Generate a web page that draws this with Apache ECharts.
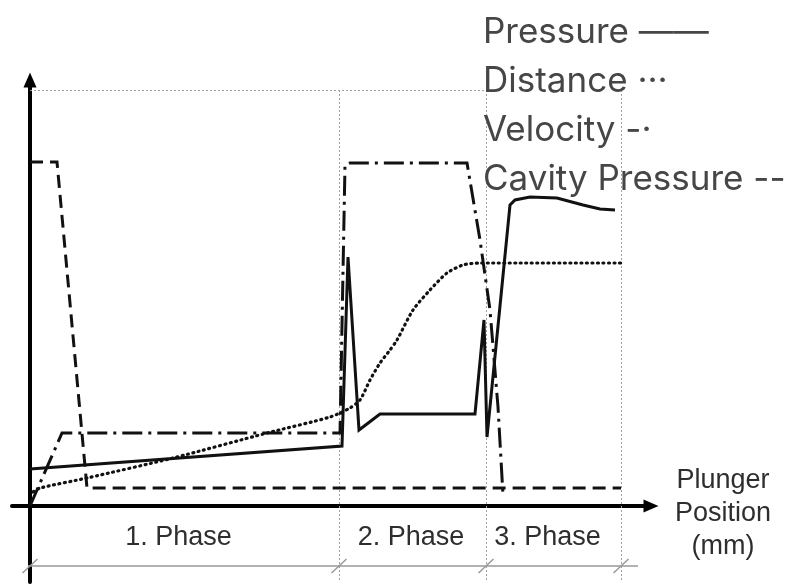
<!DOCTYPE html>
<html><head><meta charset="utf-8">
<script src="https://cdn.jsdelivr.net/npm/echarts@6/dist/echarts.min.js"></script>
<style>html,body{margin:0;padding:0;background:#fff}#c{width:790px;height:586px}</style>
</head><body><div id="c"></div>
<script>
// ---- data (x: plunger position, y: signal level, arbitrary units) ----
const seriesNames = ['Pressure', 'Distance', 'Velocity', 'Cavity Pressure'];
const legendMarks = ['——', '···', '-·', '--'];
const pressure = [[0,18.5],[62.4,30],[63.6,124.5],[65.8,38],[70,46],[89,46],[90.8,93],[91.4,34.5],[96,150.5],[97,153],[100,154.5],[105.4,154],[110.6,150.5],[114,148.5],[117,148]];
const distance = [[0.6,7],[2,9],[11.4,14],[28.6,24],[47.4,36.5],[60,44.5],[64,49],[66,53],[68,63],[70,71.5],[72,78],[73.4,83],[76.6,98],[80,108],[83.4,116.5],[86.6,120.5],[90,121.5],[118.2,121.5]];
const velocity = [[0,0],[6.4,36.5],[62,36.5],[63,170.5],[64,171.5],[87.4,171.5],[90,133],[92,98],[93.6,49.5],[94.6,5.5]];
const cavity = [[0,172],[5.4,172],[11.4,9],[118.2,9]];
const phaseBounds = [0, 61.8, 91.2, 118.2];
const phaseLabels = ['1. Phase', '2. Phase', '3. Phase'];
const phaseCenters = [29.7, 76.2, 103.5];
const topLevel = 208;
const xAxisTitle = 'Plunger\nPosition\n(mm)';

// ---- chart ----
const chart = echarts.init(document.getElementById('c'), null, {renderer: 'canvas'});
const ink = '#111';
const guide = {color: '#a0a0a0', width: 1, type: [2, 2]};

const guideLines = [];
guideLines.push([{coord: [0, topLevel]}, {coord: [phaseBounds[2], topLevel]}]);
phaseBounds.slice(1).forEach(b => guideLines.push([{coord: [b, topLevel]}, {coord: [b, -38]}]));
const bracketLines = [[{coord: [-0.4, -30]}, {coord: [121.6, -30]}]];
phaseBounds.forEach(b => bracketLines.push([{coord: [b - 1.5, -33.5]}, {coord: [b + 1.5, -26.5]}]));

const lineSeries = (name, data, type, width, cap) => ({
  name, type: 'line', data, showSymbol: false, symbol: 'none', silent: true,
  lineStyle: {color: ink, width, type, cap: cap || 'butt', join: 'miter'}, z: 5, animation: false
});

chart.setOption({
  animation: false,
  grid: {left: 12, right: 139, top: 80, bottom: 4},
  xAxis: {type: 'value', min: -3.6, max: 124.2,
    axisLine: {show: true, onZero: true, symbol: ['none', 'triangle'], symbolSize: [13, 15], lineStyle: {color: '#000', width: 4}},
    axisTick: {show: false}, axisLabel: {show: false}, splitLine: {show: false}},
  yAxis: {type: 'value', min: -38, max: 213,
    axisLine: {show: true, onZero: true, symbol: ['none', 'triangle'], symbolSize: [13, 15], lineStyle: {color: '#000', width: 4}},
    axisTick: {show: false}, axisLabel: {show: false}, splitLine: {show: false}},
  series: [
    {type: 'scatter', silent: true, symbolSize: 0, z: 1, itemStyle: {opacity: 1},
      data: phaseLabels.map((t, i) => ({name: t, value: [phaseCenters[i], -16]})),
      label: {show: true, position: 'inside', formatter: p => p.name, color: '#2e2e2e', opacity: 1, fontFamily: 'Liberation Sans', fontSize: 27},
      markLine: {silent: true, symbol: 'none', animation: false, label: {show: false},
        data: guideLines.map(l => [Object.assign({lineStyle: guide}, l[0]), l[1]])
          .concat(bracketLines.map(l => [Object.assign({lineStyle: {color: '#999', width: 1.5, type: 'solid'}}, l[0]), l[1]]))}
    },
    lineSeries(seriesNames[3], cavity, [13, 7], 3),
    lineSeries(seriesNames[2], velocity, [20, 6, 3, 6], 3),
    Object.assign(lineSeries(seriesNames[1], distance, [1, 4.5], 3.2, 'round'), {smooth: 0.25}),
    lineSeries(seriesNames[0], pressure, 'solid', 3)
  ],
  graphic: [
    {type: 'text', left: 483, top: 8, z: 10, style: {text: seriesNames.map((n, i) => n + ' ' + legendMarks[i]).join('\n'),
      font: '35px Inter', lineHeight: 49, fill: '#464646'}},
    {type: 'text', z: 10, x: 723, y: 514, style: {text: xAxisTitle, font: '27px "Liberation Sans"', lineHeight: 33, fill: '#2e2e2e', align: 'center', verticalAlign: 'middle'}}
  ]
});
</script></body></html>
